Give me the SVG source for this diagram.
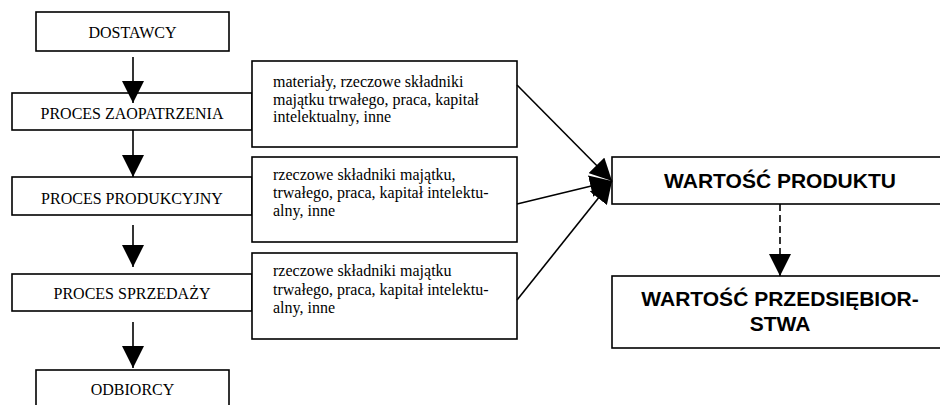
<svg xmlns="http://www.w3.org/2000/svg" width="940" height="405" viewBox="0 0 940 405">
<style>
.box{fill:#fff;stroke:#000;stroke-width:1.6}
.t{font-family:"Liberation Serif","Times New Roman",serif;font-size:16px;fill:#000}
.c{text-anchor:middle}
.b{font-family:"Liberation Sans",Arial,sans-serif;font-weight:bold;font-size:21px;fill:#000;text-anchor:middle}
.ln{stroke:#000;stroke-width:1.6;fill:none}
</style>
<defs>
<marker id="ah" markerUnits="userSpaceOnUse" markerWidth="22" markerHeight="22" viewBox="0 0 20 20" refX="20" refY="10" orient="auto">
<path d="M0,0 L20,10 L0,20 z" fill="#000"/>
</marker>
</defs>
<g id="dostawcy"><rect class="box" x="36" y="12" width="193" height="39"/><text class="t c" x="132.5" y="38">DOSTAWCY</text></g>
<g id="zaopatrzenie"><rect class="box" x="12" y="93" width="240" height="37"/><text class="t c" x="132" y="119">PROCES ZAOPATRZENIA</text></g>
<g id="produkcja"><rect class="box" x="12" y="177" width="240" height="38"/><text class="t c" x="132" y="204">PROCES PRODUKCYJNY</text></g>
<g id="sprzedaz"><rect class="box" x="12" y="274" width="240" height="37"/><text class="t c" x="132" y="299">PROCES SPRZEDAŻY</text></g>
<g id="odbiorcy"><rect class="box" x="36" y="370" width="193" height="45"/><text class="t c" x="132.5" y="395">ODBIORCY</text></g>
<g id="zasoby1"><rect class="box" x="252" y="61" width="265" height="86"/>
<text class="t" x="273" y="87">materiały, rzeczowe składniki</text>
<text class="t" x="273" y="104.5">majątku trwałego, praca, kapitał</text>
<text class="t" x="273" y="122">intelektualny, inne</text></g>
<g id="zasoby2"><rect class="box" x="252" y="157" width="265" height="85"/>
<text class="t" x="273" y="180">rzeczowe składniki majątku,</text>
<text class="t" x="273" y="198">trwałego, praca, kapitał intelektu-</text>
<text class="t" x="273" y="216">alny, inne</text></g>
<g id="zasoby3"><rect class="box" x="252" y="253" width="265" height="86"/>
<text class="t" x="273" y="276">rzeczowe składniki majątku</text>
<text class="t" x="273" y="294.5">trwałego, praca, kapitał intelektu-</text>
<text class="t" x="273" y="313">alny, inne</text></g>
<g id="wartosc-produktu"><rect class="box" x="612" y="157" width="340" height="47"/><text class="b" x="780" y="188">WARTOŚĆ PRODUKTU</text></g>
<g id="wartosc-przedsiebiorstwa"><rect class="box" x="612" y="276" width="340" height="72"/>
<text class="b" x="780" y="306">WARTOŚĆ PRZEDSIĘBIOR-</text>
<text class="b" x="780" y="331">STWA</text></g>
<g id="connectors">
<line class="ln" x1="133" y1="57" x2="133" y2="103" marker-end="url(#ah)"/>
<line class="ln" x1="133" y1="130" x2="133" y2="177" marker-end="url(#ah)"/>
<line class="ln" x1="133" y1="225" x2="133" y2="267" marker-end="url(#ah)"/>
<line class="ln" x1="133" y1="322" x2="133" y2="368" marker-end="url(#ah)"/>
<line class="ln" x1="517" y1="85" x2="612" y2="181" marker-end="url(#ah)"/>
<line class="ln" x1="517" y1="204" x2="612" y2="181" marker-end="url(#ah)"/>
<line class="ln" x1="517" y1="300" x2="612" y2="181" marker-end="url(#ah)"/>
<line class="ln" x1="780" y1="204" x2="780" y2="276" stroke-dasharray="7,4" marker-end="url(#ah)"/>
</g>
</svg>
